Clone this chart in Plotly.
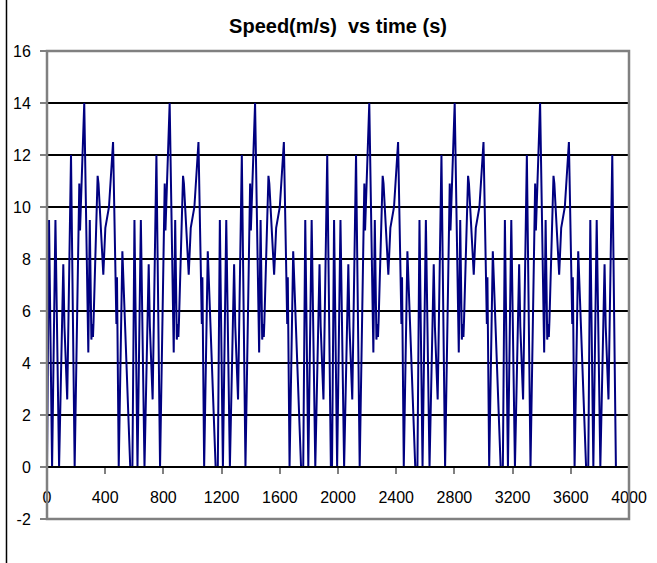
import plotly.graph_objects as go

# one drive cycle: time (s) from cycle start, speed (m/s)
cycle_t = [0, 14, 35, 58, 83, 112, 120, 139, 165, 190, 222, 227, 256, 284, 294,
           305, 312, 316, 320, 348, 354, 387, 401, 426, 454, 474, 477, 481, 493, 518, 572]
cycle_v = [0, 9.5, 0, 9.5, 0, 7.8, 5.4, 2.6, 12.0, 0, 10.9, 9.1, 14.0, 4.4, 9.5,
           4.9, 5.5, 5.0, 5.6, 11.2, 10.9, 7.4, 9.2, 10.0, 12.5, 7.3, 5.5, 7.3, 0, 8.3, 0]

# full cycles start times, and the short first part (up to the 12 m/s stop) that follows each block of three
cycle_starts = [0, 587, 1174, 1959, 2546, 3133]
partial_starts = [1761, 3720]
partial_points = 10
end_time = 3990

x_ticks = [0, 400, 800, 1200, 1600, 2000, 2400, 2800, 3200, 3600, 4000]
y_ticks = [-2, 0, 2, 4, 6, 8, 10, 12, 14, 16]

# assemble the series
segments = [(s, len(cycle_t)) for s in cycle_starts] + [(s, partial_points) for s in partial_starts]
segments.sort()
time, speed = [], []
for start, n in segments:
    time += [start + t for t in cycle_t[:n]]
    speed += cycle_v[:n]
time.append(end_time)
speed.append(0)

FONT = "Liberation Sans Narrow, Arial Narrow, Liberation Sans, Arial, sans-serif"

fig = go.Figure()
fig.add_trace(go.Scatter(x=time, y=speed, mode='lines',
                         line=dict(color='#000080', width=2), showlegend=False))

fig.update_layout(
    width=657, height=563,
    margin=dict(l=47, r=28, t=51, b=44),
    paper_bgcolor='white', plot_bgcolor='white',
    font=dict(family=FONT, size=16, color='black'),
    title=dict(text='<b>Speed(m/s)\u00a0 vs time (s)</b>', x=0.5, xref='paper', xanchor='center',
               y=1 - 26 / 563, yanchor='middle', automargin=False,
               font=dict(family=FONT, size=20, color='black')),
    xaxis=dict(range=[0, 4000], tickvals=x_ticks, ticktext=[str(v) for v in x_ticks],
               anchor='free', position=2 / 18, showline=True, linecolor='black', linewidth=1.5,
               ticks='outside', ticklen=6, tickcolor='#808080', tickwidth=1.5,
               showgrid=False, zeroline=False, ticklabelstandoff=10, automargin=False),
    yaxis=dict(range=[-2, 16], tickvals=y_ticks, ticktext=[str(v) for v in y_ticks],
               showgrid=True, gridcolor='black', gridwidth=1.5, zeroline=False,
               ticks='outside', ticklen=6, tickcolor='#808080', tickwidth=1.5,
               showline=False, automargin=False, ticklabelstandoff=6),
    shapes=[
        dict(type='rect', xref='paper', yref='paper', x0=0, x1=1, y0=0, y1=1,
             line=dict(color='#808080', width=2.5), layer='above'),
        dict(type='line', xref='paper', yref='paper', x0=-0.0696, x1=-0.0696, y0=-0.1, y1=1.12,
             line=dict(color='black', width=1.5)),
    ],
)

# drop the browser's default page margin so the figure sits at the window corner
fig.write_html("out.html", config={'displayModeBar': False},
               post_script="document.body.style.margin='0';")
